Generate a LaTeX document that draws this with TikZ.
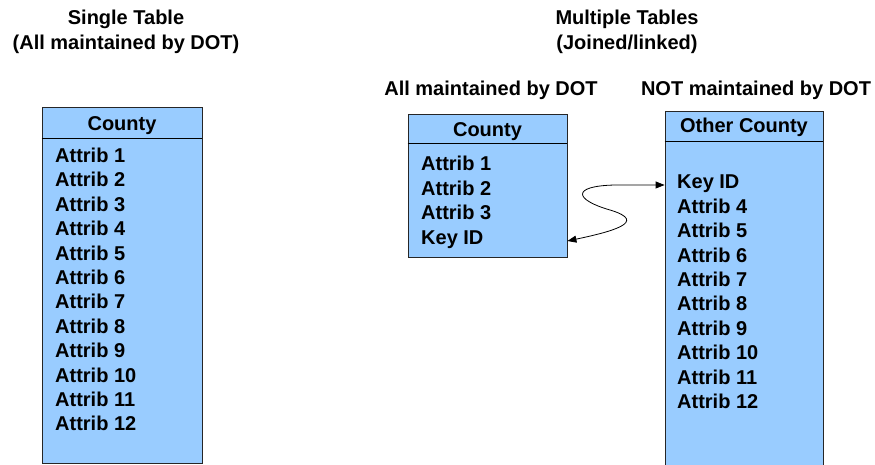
\documentclass[tikz,border=0pt]{standalone}
\usepackage{fontspec}
\setmainfont{Liberation Sans}
\usepackage{xcolor}
\definecolor{tableblue}{RGB}{153, 204, 255}
\usetikzlibrary{positioning,arrows.meta}

\tikzset{
  tablebox/.style={draw=black!85, fill=tableblue, line width=0.8bp, inner sep=0pt},
  rowtext/.style={anchor=base west, inner sep=0pt},
  headtext/.style={anchor=base, inner sep=0pt},
  linkarrow/.style={{Triangle[length=9bp,width=7bp]}-{Triangle[length=9bp,width=7bp]}, line width=0.8bp}
}

\begin{document}
\begin{tikzpicture}[x=1bp,y=-1bp,every node/.style={font=\bfseries\fontsize{20.07}{24}\selectfont}]
    \useasboundingbox (0,0) rectangle (875,465);

    % Titles
    \node[headtext] (single) at (126,25) {Single Table};
    \node[headtext] (singlesub) at (126,50) {(All maintained by DOT)};
    \node[headtext] (multi) at (627,25) {Multiple Tables};
    \node[headtext] (multisub) at (627,50) {(Joined/linked)};
    \node[headtext] (dotside) at (491,96) {All maintained by DOT};
    \node[headtext] (otherside) at (756,96) {NOT maintained by DOT};

    % The three tables
    \node[tablebox, minimum width=160bp, minimum height=356bp] (tabA) at (122,285) {};
    \node[tablebox, minimum width=159bp, minimum height=143bp] (tabB) at (487.5,185.5) {};
    \node[tablebox, minimum width=158bp, minimum height=362bp] (tabC) at (744,292) {};
    \draw[line width=0.8bp] (tabA.west |- 0,138) -- (tabA.east |- 0,138);
    \draw[line width=0.8bp] (tabB.west |- 0,143) -- (tabB.east |- 0,143);
    \draw[line width=0.8bp] (tabC.west |- 0,141) -- (tabC.east |- 0,141);

    % Table heads
    \node[headtext] (headA) at (122,131) {County};
    \node[headtext] (headB) at (487.5,137) {County};
    \node[headtext] (headC) at (744,133) {Other County};

    % Rows of the single table
    \foreach \i in {1, ..., 12}{
        \node[rowtext] (rowA\i) at (55,{162.5+24.4*(\i-1)}) {Attrib \i};
    }
    % Rows of the DOT table
    \foreach \t [count=\i] in {Attrib 1, Attrib 2, Attrib 3, Key ID}{
        \node[rowtext] (rowB\i) at (421,{171+24.4*(\i-1)}) {\t};
    }
    % Rows of the other table
    \foreach \t [count=\i] in {Key ID, Attrib 4, Attrib 5, Attrib 6, Attrib 7, Attrib 8, Attrib 9, Attrib 10, Attrib 11, Attrib 12}{
        \node[rowtext] (rowC\i) at (677,{189+24.4*(\i-1)}) {\t};
    }

    % Link between the two Key IDs
    \coordinate (keyB) at (tabB.east |- 0,241);
    \coordinate (keyC) at (tabC.west |- 0,185);
    \draw[linkarrow] (keyB) .. controls (610,232) and (650,222) .. (610,210)
        .. controls (575,200) and (570,186) .. (615,185) -- (keyC);
\end{tikzpicture}
\end{document}
